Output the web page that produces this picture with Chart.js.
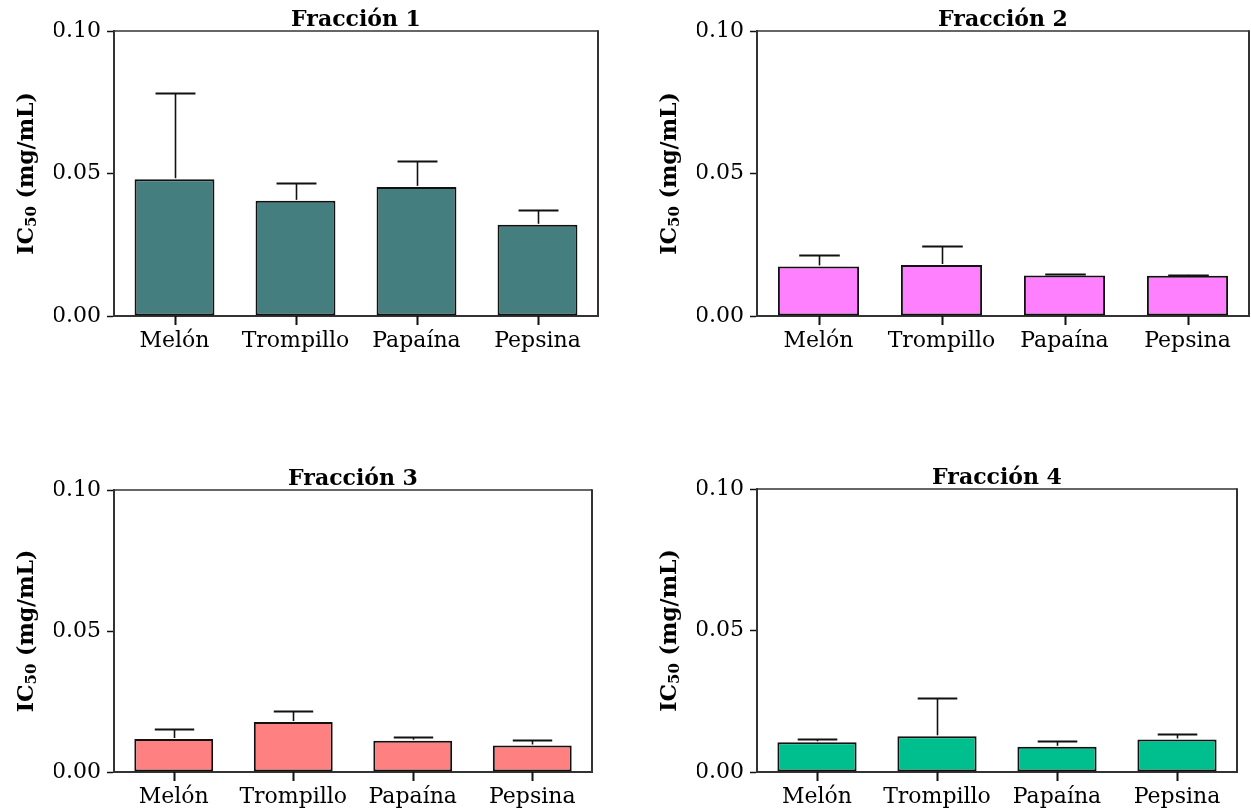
<!DOCTYPE html>
<html>
<head>
<meta charset="utf-8">
<script src="https://cdn.jsdelivr.net/npm/chart.js@4.4.1/dist/chart.umd.min.js"></script>
<style>
  html, body { margin: 0; padding: 0; background: #ffffff; }
  body { width: 1251px; height: 812px; position: relative; overflow: hidden; }
  .panel { position: absolute; }
</style>
</head>
<body>
<div class="panel" id="p1" style="left:0;top:0;"><canvas id="c1" width="625" height="406"></canvas></div>
<div class="panel" id="p2" style="left:625px;top:0;"><canvas id="c2" width="626" height="406"></canvas></div>
<div class="panel" id="p3" style="left:0;top:406px;"><canvas id="c3" width="625" height="406"></canvas></div>
<div class="panel" id="p4" style="left:625px;top:406px;"><canvas id="c4" width="626" height="406"></canvas></div>
<script>
// Enzymes / sources on the x axis
const categories = ['Melón', 'Trompillo', 'Papaína', 'Pepsina'];

// Mean IC50 (mg/mL) per fraction
const fraccion1 = [0.0480, 0.0404, 0.0453, 0.0320];
const fraccion2 = [0.0174, 0.0179, 0.0142, 0.0141];
const fraccion3 = [0.0117, 0.0177, 0.0111, 0.0094];
const fraccion4 = [0.0105, 0.0126, 0.0089, 0.0115];

// Standard deviation (upper error bar) per fraction
const sd1 = [0.0304, 0.0063, 0.0090, 0.0053];
const sd2 = [0.0041, 0.0067, 0.0006, 0.0004];
const sd3 = [0.0036, 0.0038, 0.0012, 0.0018];
const sd4 = [0.0012, 0.0136, 0.0019, 0.0021];

// Y axis ticks
const yTicks = [0.00, 0.05, 0.10];
const yTickLabels = ['0.00', '0.05', '0.10'];

const titles = ['Fracción 1', 'Fracción 2', 'Fracción 3', 'Fracción 4'];
const colors = ['#447e7e', '#ff80ff', '#ff8080', '#00bf8f'];

const SERIF = '"DejaVu Serif", serif';
const INK = '#111111';

// Error bars, category tick marks, frame, panel title and y-axis title (with subscript)
const panelDecor = {
  id: 'panelDecor',
  afterDraw(chart, args, opts) {
    const ctx = chart.ctx;
    const a = chart.chartArea;
    const y = chart.scales.y;
    const meta = chart.getDatasetMeta(0);
    const values = chart.data.datasets[0].data;
    ctx.save();
    ctx.strokeStyle = INK;
    ctx.fillStyle = INK;
    ctx.lineCap = 'butt';
    meta.data.forEach((bar, i) => {
      const top = Math.round(y.getPixelForValue(values[i] + opts.errors[i])) + 0.5;
      const half = bar.width / 4;
      const x = Math.round(bar.x) + 0.5;
      ctx.lineWidth = 1.6;
      ctx.beginPath();
      ctx.moveTo(x, bar.y - 1);
      ctx.lineTo(x, top);
      ctx.stroke();
      ctx.lineWidth = 2.2;
      ctx.beginPath();
      ctx.moveTo(x - half, top);
      ctx.lineTo(x + half, top);
      ctx.stroke();
      // category tick mark below the x axis
      ctx.fillRect(Math.round(bar.x) - 0.5, Math.round(a.bottom), 2, 9);
    });

    // top and right edges of the plot frame
    ctx.strokeStyle = '#333333';
    ctx.lineWidth = 1.5;
    ctx.beginPath();
    ctx.moveTo(a.left, a.top);
    ctx.lineTo(a.right, a.top);
    ctx.stroke();
    ctx.lineWidth = 2;
    ctx.beginPath();
    ctx.moveTo(a.right, a.top - 0.75);
    ctx.lineTo(a.right, a.bottom);
    ctx.stroke();

    // panel title
    ctx.fillStyle = '#000';
    ctx.font = 'bold 22px ' + SERIF;
    ctx.textAlign = 'center';
    ctx.textBaseline = 'alphabetic';
    ctx.fillText(opts.title, (a.left + a.right) / 2, a.top - 5);

    // y-axis title: IC50 (mg/mL), 50 as subscript
    const main = 'bold 22px ' + SERIF;
    const sub = 'bold 15px ' + SERIF;
    const p1 = 'IC', p2 = '50', p3 = ' (mg/mL)';
    ctx.font = main; const w1 = ctx.measureText(p1).width; const w3 = ctx.measureText(p3).width;
    ctx.font = sub;  const w2 = ctx.measureText(p2).width;
    const total = w1 + w2 + w3;
    ctx.translate(a.left - 89, (a.top + a.bottom) / 2);
    ctx.rotate(-Math.PI / 2);
    ctx.textAlign = 'left';
    let sx = -total / 2;
    const base = 8;
    ctx.font = main; ctx.fillText(p1, sx, base); sx += w1;
    ctx.font = sub;  ctx.fillText(p2, sx, base + 3); sx += w2;
    ctx.font = main; ctx.fillText(p3, sx, base);
    ctx.restore();
  }
};

// Panel placement inside each canvas (padding around the plot area)
const paddings = [
  { left: 54, right: 27, top: 31, bottom: 50 },
  { left: 72, right: 2,  top: 31, bottom: 50 },
  { left: 54, right: 33, top: 84, bottom: 0 },
  { left: 72, right: 14, top: 83, bottom: 0 }
];

const series = [fraccion1, fraccion2, fraccion3, fraccion4];
const errors = [sd1, sd2, sd3, sd4];

series.forEach((vals, k) => {
  new Chart(document.getElementById('c' + (k + 1)), {
    type: 'bar',
    data: {
      labels: categories,
      datasets: [{
        data: vals,
        backgroundColor: colors[k],
        borderColor: INK,
        borderWidth: 2,
        borderSkipped: false,
        barPercentage: 0.66,
        categoryPercentage: 1.0
      }]
    },
    options: {
      responsive: false,
      animation: false,
      devicePixelRatio: 1,
      layout: { padding: paddings[k] },
      plugins: {
        legend: { display: false },
        tooltip: { enabled: false },
        title: { display: false },
        panelDecor: { title: titles[k], errors: errors[k] }
      },
      scales: {
        x: {
          afterFit: s => { s.height = 40; },
          grid: { drawOnChartArea: false, drawTicks: true, tickLength: 8, color: 'rgba(0,0,0,0)' },
          border: { display: true, color: '#333333', width: 2 },
          ticks: { color: '#000', padding: 4, font: { family: SERIF, size: 22 }, maxRotation: 0, autoSkip: false }
        },
        y: {
          min: 0,
          max: 0.1,
          afterFit: s => { s.width = 60; },
          afterBuildTicks: s => { s.ticks = yTicks.map(v => ({ value: v })); },
          grid: { drawOnChartArea: false, drawTicks: true, tickLength: 7, color: INK, tickWidth: 1.5 },
          border: { display: true, color: '#333333', width: 2 },
          ticks: {
            color: '#000',
            padding: 6,
            font: { family: SERIF, size: 22 },
            callback: v => yTickLabels[yTicks.findIndex(t => Math.abs(t - v) < 1e-9)]
          }
        }
      }
    },
    plugins: [panelDecor]
  });
});
</script>
</body>
</html>
